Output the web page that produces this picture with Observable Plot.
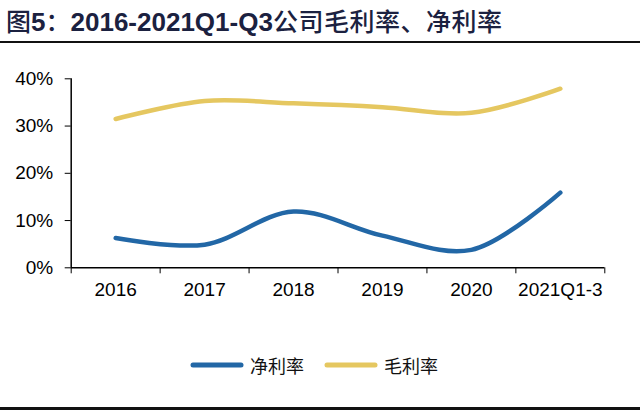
<!DOCTYPE html>
<html>
<head>
<meta charset="utf-8">
<script src="https://cdn.jsdelivr.net/npm/d3@7"></script>
<script src="https://cdn.jsdelivr.net/npm/@observablehq/plot@0.6"></script>
<style>
  html, body { margin: 0; padding: 0; background: #fff; }
  #page { position: relative; width: 640px; height: 410px; overflow: hidden; }
  #title { position: absolute; left: 6px; top: 4px; white-space: nowrap; color: #1b2140; font-size: 25px; line-height: 32px; }
  #title .cjk { font-family: "Noto Sans CJK SC", sans-serif; font-weight: 500; }
  #title .cjk2 { font-family: "Noto Sans CJK SC", sans-serif; font-weight: 500; letter-spacing: 0.5px; }
  #title .lat { font-family: "Liberation Sans", Arial, sans-serif; font-weight: bold; font-size: 26px; }
  #rule1 { position: absolute; left: 0; top: 41px; width: 640px; height: 2px; background: #111; }
  #rule2 { position: absolute; left: 0; top: 407px; width: 640px; height: 3px; background: #111; }
  #chart { position: absolute; left: 0; top: 45px; }
  #legend { position: absolute; left: 0; top: 352px; width: 640px; height: 26px; font-family: "Noto Sans CJK SC", sans-serif; font-size: 18px; color: #111; }
  .item { position: absolute; top: 0; display: flex; align-items: center; height: 26px; }
  .item svg { margin-right: 6px; }
</style>
</head>
<body>
<div id="page">
  <div id="title"><span class="cjk">图</span><span class="lat">5</span><span class="cjk">：</span><span class="lat">2016-2021Q1-Q3</span><span class="cjk2">公司毛利率、净利率</span></div>
  <div id="rule1"></div>
  <div id="chart"></div>
  <div id="legend"></div>
  <div id="rule2"></div>
</div>
<script>
const categories = ["2016", "2017", "2018", "2019", "2020", "2021Q1-3"];
const netMargin = [6.3, 4.9, 11.9, 6.8, 3.8, 15.9];      // 净利率 (%)
const grossMargin = [31.5, 35.3, 34.8, 34.0, 32.8, 37.9]; // 毛利率 (%)
const yTicks = [0, 10, 20, 30, 40];
const seriesNames = ["净利率", "毛利率"];
const seriesColors = ["#2267a6", "#e5c760"];

const data = categories.map((c, i) => ({ i, c, net: netMargin[i] / 100, gross: grossMargin[i] / 100 }));
const boundaries = d3.range(categories.length + 1).map(k => k - 0.5);

const chart = Plot.plot({
  width: 640,
  height: 270,
  marginLeft: 70.7,
  marginRight: 35.7,
  marginTop: 33.3,
  marginBottom: 47.7,
  x: { domain: [-0.5, categories.length - 0.5] },
  y: { domain: [0, 0.4] },
  style: { fontFamily: "'Liberation Sans', Arial, sans-serif", fontSize: "19px", color: "#000", background: "#fff" },
  marks: [
    Plot.axisY(yTicks.map(v => v / 100), { tickFormat: d => Math.round(d * 100) + "%", tickSize: 6, tickPadding: 12, label: null, fontSize: 19, stroke: "#000" }),
    Plot.axisX(categories.map((c, i) => i), { tickSize: 0, tickPadding: 15, tickFormat: i => categories[i], label: null, fontSize: 19 }),
    Plot.axisX(boundaries, { tickSize: 6, tickFormat: () => "", label: null, stroke: "#000" }),
    Plot.ruleX([-0.5], { y1: 0, y2: 0.4, stroke: "#000", strokeWidth: 1.5 }),
    Plot.ruleY([0], { stroke: "#000", strokeWidth: 1.5 }),
    Plot.line(data, { x: "i", y: "gross", stroke: seriesColors[1], strokeWidth: 4.5, curve: "catmull-rom", strokeLinecap: "round" }),
    Plot.line(data, { x: "i", y: "net", stroke: seriesColors[0], strokeWidth: 4.5, curve: "catmull-rom", strokeLinecap: "round" })
  ]
});
document.getElementById("chart").appendChild(chart);

const legend = document.getElementById("legend");
const lefts = [190, 324];
seriesNames.forEach((name, k) => {
  const item = document.createElement("div");
  item.className = "item";
  item.style.left = lefts[k] + "px";
  item.innerHTML = `<svg width="54" height="10"><line x1="3" y1="5" x2="51" y2="5" stroke="${seriesColors[k]}" stroke-width="5" stroke-linecap="round"/></svg><span>${name}</span>`;
  legend.appendChild(item);
});
</script>
</body>
</html>
